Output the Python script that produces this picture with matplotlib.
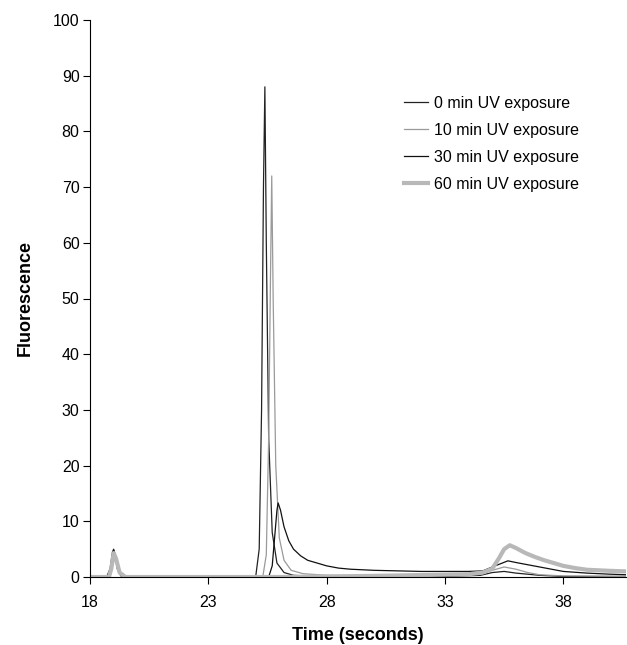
import matplotlib
matplotlib.use("Agg")
import matplotlib.pyplot as plt

plt.rcParams['font.family'] = ['Liberation Sans', 'DejaVu Sans']

labels = ["0 min UV exposure", "10 min UV exposure", "30 min UV exposure", "60 min UV exposure"]

t0 = [18.0, 18.7, 18.85, 18.95, 19.0, 19.05, 19.15, 19.3, 19.5, 25.0, 25.15, 25.25, 25.33, 25.39,
      25.45, 25.55, 25.7, 25.9, 26.2, 26.6, 27.5, 33.0, 34.5, 35.0, 35.5, 36.0, 37.0, 38.0, 40.7]
v0 = [0, 0, 1.5, 4.5, 5.0, 4.2, 1.5, 0.2, 0, 0, 5, 30, 70, 88,
      60, 25, 8, 2.5, 0.8, 0.3, 0.1, 0.1, 0.3, 0.8, 1.0, 0.7, 0.3, 0.1, 0.1]

t10 = [18.0, 18.8, 18.9, 19.0, 19.1, 19.25, 19.5, 25.3, 25.45, 25.55, 25.63, 25.68, 25.74, 25.85,
       26.0, 26.2, 26.5, 27.0, 28.0, 30.0, 33.0, 34.5, 35.0, 35.5, 36.0, 36.5, 37.0, 38.0, 40.7]
v10 = [0, 0, 1.5, 4.5, 3.5, 0.8, 0, 0, 4, 25, 55, 72, 50, 20,
       7, 3, 1.2, 0.6, 0.3, 0.2, 0.3, 0.6, 1.2, 1.8, 1.4, 0.8, 0.4, 0.2, 0.1]

t30 = [18.0, 18.8, 18.9, 19.0, 19.1, 19.25, 19.5, 25.55, 25.7, 25.8, 25.9, 25.95, 26.05, 26.2,
       26.4, 26.6, 26.9, 27.2, 27.6, 28.0, 28.5, 29.0, 30.0, 31.0, 32.0, 33.0, 34.0, 34.6, 35.0,
       35.3, 35.66, 36.0, 36.5, 37.0, 37.5, 38.0, 39.0, 40.0, 40.7]
v30 = [0, 0, 1.5, 4.8, 3.5, 0.8, 0, 0, 2, 7, 12, 13.3, 12, 9,
       6.5, 5, 3.8, 3.0, 2.5, 2.0, 1.6, 1.4, 1.2, 1.1, 1.0, 1.0, 1.0, 1.1, 1.8,
       2.3, 2.9, 2.6, 2.2, 1.8, 1.4, 1.0, 0.7, 0.5, 0.4]

t60 = [18.0, 18.8, 18.9, 19.0, 19.1, 19.25, 19.5, 26.0, 30.0, 32.0, 34.0, 34.6, 35.0, 35.3, 35.5,
       35.74, 36.0, 36.4, 36.8, 37.2, 37.6, 38.0, 38.5, 39.0, 40.0, 40.7]
v60 = [0, 0, 1.5, 4.3, 3.3, 0.8, 0, 0, 0.2, 0.35, 0.5, 0.8, 1.5, 3.5, 5.0,
       5.7, 5.2, 4.3, 3.6, 3.0, 2.5, 2.0, 1.6, 1.3, 1.1, 1.0]

xticks = [18, 23, 28, 33, 38]
yticks = [0, 10, 20, 30, 40, 50, 60, 70, 80, 90, 100]

fig = plt.figure(figsize=(6.27, 6.45), dpi=100)
ax = fig.add_axes([90 / 627, 1 - 577 / 645, 536 / 627, 557 / 645])

ax.plot(t0, v0, color='#222222', lw=0.9, label=labels[0], zorder=3)
ax.plot(t10, v10, color='#9a9a9a', lw=0.9, label=labels[1], zorder=3)
ax.plot(t30, v30, color='#111111', lw=0.9, label=labels[2], zorder=3)
ax.plot(t60, v60, color='#b8b8b8', lw=3.0, label=labels[3], zorder=4)

ax.set_xlim(18, 40.65)
ax.set_ylim(0, 100)
ax.set_xticks(xticks)
ax.set_yticks(yticks)
ax.tick_params(direction='out', length=5, width=0.8, labelsize=11.5, colors='black')
ax.tick_params(axis='x', pad=8)
ax.tick_params(axis='y', pad=2.5)
for s in ['top', 'right']:
    ax.spines[s].set_visible(False)
for s in ['left', 'bottom']:
    ax.spines[s].set_linewidth(0.8)
    ax.spines[s].set_zorder(5)

ax.set_xlabel("Time (seconds)", fontsize=13, fontweight='bold', labelpad=12)
ax.set_ylabel("Fluorescence", fontsize=13, fontweight='bold', labelpad=14)

ax.legend(loc='upper left',
          bbox_to_anchor=(396 / 627, 1 - 88 / 645), bbox_transform=fig.transFigure,
          frameon=False, fontsize=11.5, handlelength=1.5, handletextpad=0.4,
          labelspacing=0.75, borderpad=0)

fig.savefig("out.png", dpi=100)
